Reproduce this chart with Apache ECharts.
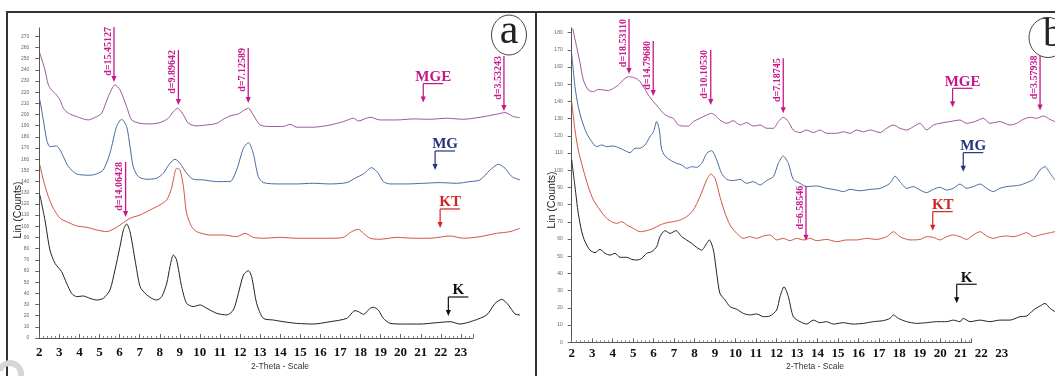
<!DOCTYPE html>
<html><head><meta charset="utf-8">
<script src="https://cdn.jsdelivr.net/npm/echarts@6/dist/echarts.min.js"></script>
<style>html,body{margin:0;padding:0;background:#fff}#c{width:1055px;height:376px}</style>
</head><body><div id="c"></div>
<script>
// ---------- DATA ----------
const xTickLabels = [2,3,4,5,6,7,8,9,10,11,12,13,14,15,16,17,18,19,20,21,22,23];
const seriesNames = ['MGE','MG','KT','K'];

// Panel (a): [2-theta scale, Lin counts]
const a_MGE = [[2.03,254.9],[2.28,240],[2.45,226.6],[2.61,222.1],[2.86,217.6],[3.03,213.1],[3.2,205.7],[3.45,201.2],[3.86,198.2],[4.44,195.2],[4.86,198.2],[5.11,201.2],[5.44,216.1],[5.77,226.6],[6.02,222.1],[6.35,207.2],[6.6,195.2],[7.02,192.2],[7.52,191.6],[8.01,192.8],[8.43,196.7],[8.68,202.7],[8.89,205.7],[9.18,199.7],[9.43,192.2],[9.84,189.9],[10.34,190.7],[10.84,192.2],[11.17,195.8],[11.5,198.8],[11.92,200.6],[12.17,203.6],[12.42,205.7],[12.66,199.7],[13,190.7],[13.5,189.3],[14.16,189.3],[14.49,191.3],[14.82,188.7],[15.65,188.7],[16.49,190.7],[17.15,193.7],[17.65,196.7],[17.9,194.3],[18.48,197.6],[18.98,195.2],[19.81,195.2],[20.64,196.1],[21.47,195.8],[22.3,196.7],[23.13,195.8],[23.96,197.6],[24.79,200.3],[25.21,201.8],[25.62,198.2],[25.95,197.3]];
const a_MG = [[2.03,213.1],[2.2,195.2],[2.37,177.3],[2.53,171.3],[2.86,171.9],[3.03,168.4],[3.2,162.4],[3.45,153.4],[3.86,146.9],[4.52,145.7],[4.86,146.9],[5.19,150.4],[5.52,165.4],[5.85,189.3],[6.1,195.8],[6.35,189.3],[6.52,171.3],[6.68,153.4],[6.93,144.5],[7.35,142.1],[7.85,143],[8.18,147.5],[8.51,156.4],[8.76,160],[9.01,156.4],[9.34,147.5],[9.67,142.1],[10.17,141.5],[10.84,140],[11.5,140],[11.83,150.4],[12.17,169.9],[12.42,174.9],[12.66,165.4],[12.91,144.5],[13.16,139.1],[13.99,137.9],[14.82,137.9],[15.65,138.5],[16.49,137.9],[17.32,139.1],[17.73,143],[18.15,146.9],[18.56,152.5],[18.89,147.5],[19.14,140],[19.48,137.9],[20.31,137.9],[21.14,138.5],[21.97,139.1],[22.8,138.5],[23.46,140],[23.96,141.5],[24.46,150.4],[24.87,155.5],[25.21,151.9],[25.54,144.5],[25.95,141.5]];
const a_KT = [[2.03,154.9],[2.2,141.5],[2.45,126.6],[2.7,116.1],[3.03,107.2],[3.36,104.2],[3.86,100.3],[4.36,99.1],[4.86,96.7],[5.36,95.2],[5.77,98.2],[6.1,102.1],[6.52,107.2],[7.02,110.1],[7.52,114.6],[8.01,119.1],[8.35,123.6],[8.59,134],[8.71,144.5],[8.84,151.9],[9.01,150.4],[9.18,135.5],[9.34,111.6],[9.59,99.7],[9.84,95.2],[10.5,92.2],[11.17,92.2],[11.83,90.7],[12.25,93.7],[12.66,90.1],[13.16,89.3],[13.99,90.1],[14.82,89.3],[15.65,89.3],[16.49,89.3],[17.15,90.1],[17.56,95.2],[17.9,97.3],[18.15,93.7],[18.48,89.3],[18.98,88.4],[19.81,90.1],[20.64,89.3],[21.47,89.3],[22.47,91.3],[23.13,89.3],[23.96,90.7],[24.79,93.7],[25.45,95.2],[25.95,98.2]];
const a_K = [[2.03,128.1],[2.28,105.7],[2.53,78.8],[2.78,66.9],[3.11,59.4],[3.36,49],[3.61,40],[3.86,37],[4.19,37.6],[4.52,35.5],[4.86,34],[5.19,35.5],[5.52,43],[5.77,60.9],[6.02,81.8],[6.19,96.7],[6.35,102.1],[6.52,95.2],[6.77,69.9],[7.02,46],[7.27,40],[7.6,35.5],[7.85,34],[8.1,37],[8.35,49],[8.51,63.9],[8.68,74.3],[8.84,69.9],[9.09,46],[9.34,31],[9.67,28.1],[10.01,29.6],[10.34,26.6],[10.84,22.1],[11.34,20.6],[11.67,25.1],[11.92,40],[12.17,56.4],[12.42,60.3],[12.58,54.9],[12.83,31],[13.16,17.6],[13.66,16.1],[14.16,14.6],[14.82,13.1],[15.65,12.5],[16.49,14.6],[17.32,17.6],[17.73,24.5],[17.9,23.6],[18.15,21.2],[18.48,26.6],[18.64,27.5],[18.89,25.1],[19.14,17.6],[19.48,13.1],[20.14,12.5],[20.97,12.5],[21.8,13.7],[22.47,14.6],[22.96,12.5],[23.63,15.5],[24.29,20.6],[24.71,31],[25.04,34.6],[25.37,29.6],[25.7,21.5],[25.95,20.6]];

// Panel (b)
const b_MGE = [[2.05,182.3],[2.24,171.9],[2.41,162.2],[2.57,152.5],[2.81,146.7],[3.06,145.7],[3.3,147],[3.54,146.7],[3.79,146.3],[4.03,147.6],[4.28,149.6],[4.52,152.5],[4.77,154.4],[5.01,154],[5.26,152.5],[5.5,148.6],[5.74,143.8],[5.99,139.9],[6.23,136.6],[6.48,133.1],[6.72,131.2],[6.96,130.2],[7.21,126.3],[7.45,125.7],[7.7,125.7],[7.94,128.3],[8.26,130.2],[8.59,132.1],[8.83,133.1],[8.99,132.1],[9.24,129.2],[9.57,127.3],[9.89,128.8],[10.22,126.3],[10.54,127.7],[10.87,125.7],[11.2,126.3],[11.52,124.4],[11.85,124.4],[12.09,128.3],[12.33,130.8],[12.58,128.3],[12.82,123.4],[13.15,121.9],[13.47,123.4],[13.8,121.9],[14.12,123.4],[14.45,121.5],[14.94,121.5],[15.27,122.4],[15.59,121.5],[15.91,123.4],[16.24,122.4],[16.57,123.4],[17.06,121.9],[17.38,124.4],[17.71,126.3],[18.03,124.4],[18.36,123.4],[18.68,125.3],[19.01,127.3],[19.33,123.4],[19.66,126.3],[19.98,127.3],[20.47,128.3],[20.96,129.2],[21.28,127.3],[21.69,128.3],[22.1,130.2],[22.42,127.3],[22.91,128.3],[23.4,126.3],[23.73,127.3],[24.05,129.6],[24.38,130.8],[24.7,130.2],[25.03,131.6],[25.35,129.6],[25.6,128.3]];
const b_MG = [[2,168],[2.16,148.6],[2.32,137],[2.49,129.2],[2.73,121.5],[2.98,116.6],[3.22,113.7],[3.46,114.7],[3.71,113.7],[4.03,114.1],[4.36,112.8],[4.6,111.4],[4.85,110.2],[5.09,112.8],[5.33,112.8],[5.58,114.7],[5.82,119.5],[5.99,122.4],[6.15,128.3],[6.28,123.4],[6.39,112.2],[6.56,108.3],[6.8,106],[7.13,104],[7.37,103.1],[7.62,101.1],[7.86,102.1],[8.1,101.7],[8.35,104],[8.59,109.8],[8.83,111.4],[9.08,106],[9.32,98.2],[9.57,94.7],[9.89,94],[10.22,94.7],[10.54,92.4],[10.87,93.4],[11.2,91.4],[11.52,94],[11.85,96.3],[12.09,104],[12.33,108.3],[12.58,104],[12.82,94.7],[13.15,92.4],[13.47,90.5],[13.96,90.9],[14.45,89.5],[14.94,88.5],[15.27,87.6],[15.59,88.9],[16.08,88.1],[16.57,88.9],[17.06,89.5],[17.54,92.4],[17.79,96.6],[18.03,93.4],[18.36,89.5],[18.68,90.5],[19.01,88.5],[19.33,87],[19.66,88.9],[19.98,90.1],[20.31,88.5],[20.63,89.5],[20.96,92],[21.29,89.5],[21.61,90.5],[21.94,92],[22.26,89.5],[22.59,87.6],[22.91,89.5],[23.24,90.5],[23.57,90.9],[23.89,91.4],[24.22,92.8],[24.55,94.7],[24.87,100.2],[25.11,102.1],[25.36,98.2],[25.6,94.3]];
const b_KT = [[2,139.9],[2.16,123.4],[2.32,111.8],[2.57,100.2],[2.81,90.5],[3.06,82.7],[3.38,76.9],[3.71,72],[3.95,70.1],[4.2,69.1],[4.44,70.1],[4.69,68.2],[5.01,66.2],[5.34,64.3],[5.66,64.9],[5.99,66.2],[6.31,68.2],[6.64,69.5],[6.96,70.1],[7.29,71.1],[7.61,73],[7.94,76.9],[8.26,84.6],[8.59,94.3],[8.79,97.8],[9,95.3],[9.24,84.6],[9.49,75],[9.73,68.2],[10.06,63.3],[10.38,60.4],[10.71,61.4],[11.03,60.4],[11.36,61.8],[11.68,62.4],[12.01,59.5],[12.33,60.4],[12.66,59.1],[12.98,60.4],[13.31,59.5],[13.63,60.4],[13.96,59.1],[14.45,59.8],[14.94,58.5],[15.42,59.5],[15.91,59.5],[16.4,60.4],[16.88,59.8],[17.38,61.4],[17.71,64.3],[18.03,61.4],[18.52,59.5],[19.01,59.8],[19.33,61.4],[19.66,61],[19.98,59.5],[20.31,61.4],[20.63,62.4],[20.96,61.4],[21.29,59.8],[21.61,62.4],[21.94,64.3],[22.26,61.8],[22.59,60.4],[22.91,61.4],[23.24,61.8],[23.57,61.4],[23.89,62.4],[24.22,63.7],[24.55,61.4],[24.87,62.4],[25.2,63.3],[25.6,64.3]];
const b_K = [[2,106],[2.16,90.5],[2.32,75],[2.49,64.3],[2.65,58.5],[2.89,53.6],[3.14,52.1],[3.38,54],[3.63,51.7],[3.87,50.7],[4.12,51.7],[4.36,49.4],[4.69,49.4],[4.93,48.2],[5.18,47.8],[5.42,48.8],[5.66,51.7],[5.91,52.7],[6.15,55.6],[6.31,61.4],[6.56,64.9],[6.8,63.3],[7.09,64.9],[7.37,61.4],[7.61,59.5],[7.86,57.5],[8.1,55.2],[8.35,53.6],[8.59,57.5],[8.72,59.5],[8.92,53.6],[9.08,40.1],[9.24,28.4],[9.49,24.6],[9.73,20.7],[10.06,19.2],[10.38,16.8],[10.71,15.9],[11.03,16.5],[11.36,14.9],[11.68,15.3],[12.01,18.8],[12.17,26.5],[12.37,32.3],[12.58,26.5],[12.82,14.9],[13.15,12],[13.47,10.6],[13.8,12.9],[14.12,11.4],[14.45,12],[14.77,10.6],[15.26,11.4],[15.75,10.6],[16.24,11],[16.73,12],[17.22,12.6],[17.54,13.9],[17.71,15.9],[17.95,13.9],[18.36,12],[18.84,11],[19.33,11.4],[19.82,12],[20.31,12],[20.63,12.9],[20.96,12],[21.12,13.9],[21.45,12],[21.94,12.9],[22.42,12],[22.91,12.9],[23.4,12.9],[23.89,14.9],[24.22,15.3],[24.55,18.8],[24.87,21.1],[25.11,22.6],[25.36,19.7],[25.6,17.8]];

// d-spacing annotations: peak 2-theta scale value and counts at arrow tip
const a_dLabels = [['d=15.45127',5.72,229.2],['d=9.89642',8.93,208.6],['d=7.12589',12.41,210.4],['d=3.53243',25.15,203.2],['d=14.06428',6.30,108.3]];
const b_dLabels = [['d=18.53110',4.80,156.0],['d=14.79680',5.98,143.2],['d=10.10530',8.79,138.0],['d=7.18745',12.33,133.1],['d=3.57938',24.87,134.7],['d=6.58546',13.44,59.1]];
// sample name markers: name, 2-theta, counts at arrow tip
const a_names = [['MGE',21.13,210.7],['MG',21.72,150.4],['KT',21.97,98.5],['K',22.38,19.7]];
const b_names = [['MGE',20.60,136.6],['MG',21.12,99.2],['KT',19.63,64.9],['K',20.80,22.7]];

// ---------- STYLE ----------
const lineColors = {MGE:'#a0559a', MG:'#4b6aa3', KT:'#d2553f', K:'#222222'};
const nameColors = {MGE:'#c2168a', MG:'#24317c', KT:'#d42323', K:'#111111'};
const MAG = '#c8168c';

const chart = echarts.init(document.getElementById('c'));

function dataX(gi, max, margin){
  return {gridIndex:gi, type:'value', min:2, max:max, interval:1,
    axisLine:{show:false}, axisTick:{show:false}, splitLine:{show:false},
    axisLabel:{margin:margin, fontFamily:'Liberation Serif', fontWeight:'bold', fontSize:13, color:'#111',
      showMaxLabel:false,
      formatter:v => xTickLabels.indexOf(v) >= 0 ? String(v) : ''}};
}
function rulerX(gi, max){
  return {gridIndex:gi, type:'value', min:2, max:max, interval:1,
    axisLine:{show:true, lineStyle:{color:'#555', width:1}},
    axisTick:{show:true, inside:true, length:4, lineStyle:{color:'#666'}},
    minorTick:{show:true, splitNumber:5, length:2, lineStyle:{color:'#888'}},
    axisLabel:{show:false}, splitLine:{show:false}};
}
function dataY(gi, max, margin){
  return {gridIndex:gi, type:'value', min:0, max:max, interval:10,
    axisLine:{show:true, lineStyle:{color:'#555', width:1}},
    axisTick:{show:true, length:4, lineStyle:{color:'#666'}},
    splitLine:{show:false},
    axisLabel:{margin:margin, fontSize:5, color:'#666', fontFamily:'Liberation Sans', showMaxLabel:false}};
}
function hiddenY(gi){ return {gridIndex:gi, type:'value', min:0, max:1, show:false}; }

function mkSeries(data, name, xi, yi){
  return {type:'line', name:name, data:data, xAxisIndex:xi, yAxisIndex:yi, showSymbol:false, symbol:'none',
    smooth:0.25, clip:false, lineStyle:{color:lineColors[name], width:1}, silent:true, animation:false};
}

chart.setOption({
  animation:false,
  backgroundColor:'#ffffff',
  grid:[
    {left:39.3, right:535, top:28, bottom:38},
    {left:39.3, width:433.7, top:28, bottom:38},
    {left:571.7, right:0, top:28, bottom:33.7},
    {left:571.7, width:399.8, top:28, bottom:33.7}
  ],
  xAxis:[dataX(0,25.95,8), rulerX(1,23.6), dataX(2,25.6,5), rulerX(3,21.5)],
  yAxis:[dataY(0,277.5,10), hiddenY(1), dataY(2,182.7,9), hiddenY(3)],
  series:[
    mkSeries(a_MGE,'MGE',0,0), mkSeries(a_MG,'MG',0,0), mkSeries(a_KT,'KT',0,0), mkSeries(a_K,'K',0,0),
    mkSeries(b_MGE,'MGE',2,2), mkSeries(b_MG,'MG',2,2), mkSeries(b_KT,'KT',2,2), mkSeries(b_K,'K',2,2)
  ]
});

// ---------- ANNOTATIONS ----------
const els = [];
function arrowHead(x, y, color){
  els.push({type:'polygon', silent:true, shape:{points:[[x-2.6,y-6],[x+2.6,y-6],[x,y]]}, style:{fill:color}});
}
function addD(axes, list){
  list.forEach(([txt, xv, yv]) => {
    const p = chart.convertToPixel(axes, [xv, yv]);
    const L = 55;
    els.push({type:'line', silent:true, shape:{x1:p[0], y1:p[1]-L, x2:p[0], y2:p[1]-5}, style:{stroke:MAG, lineWidth:1.3}});
    arrowHead(p[0], p[1], MAG);
    els.push({type:'text', silent:true, x:p[0]-1, y:p[1]-L, rotation:Math.PI/2,
      style:{text:txt, font:'bold 10px "Liberation Serif"', fill:MAG, align:'right', verticalAlign:'bottom', textAlign:'right', textVerticalAlign:'bottom'}});
  });
}
function addNames(axes, list){
  list.forEach(([nm, xv, yv]) => {
    const p = chart.convertToPixel(axes, [xv, yv]);
    const c = nameColors[nm];
    const cx = p[0], cy = p[1]-19;
    els.push({type:'line', silent:true, shape:{x1:cx, y1:cy, x2:cx, y2:p[1]-5}, style:{stroke:c, lineWidth:1.2}});
    els.push({type:'line', silent:true, shape:{x1:cx, y1:cy, x2:cx+20, y2:cy}, style:{stroke:c, lineWidth:1.2}});
    arrowHead(cx, p[1], c);
    els.push({type:'text', silent:true, x:cx+10, y:cy+1,
      style:{text:nm, font:'bold 15px "Liberation Serif"', fill:c, align:'center', verticalAlign:'bottom', textAlign:'center', textVerticalAlign:'bottom'}});
  });
}
addD({xAxisIndex:0, yAxisIndex:0}, a_dLabels);
addD({xAxisIndex:2, yAxisIndex:2}, b_dLabels);
addNames({xAxisIndex:0, yAxisIndex:0}, a_names);
addNames({xAxisIndex:2, yAxisIndex:2}, b_names);

// frames
const frameStyle = {stroke:'#333', lineWidth:2};
els.push({type:'line', silent:true, shape:{x1:6, y1:12, x2:1055, y2:12}, style:frameStyle});
els.push({type:'line', silent:true, shape:{x1:7, y1:12, x2:7, y2:376}, style:frameStyle});
els.push({type:'line', silent:true, shape:{x1:536, y1:12, x2:536, y2:376}, style:frameStyle});
// panel letters
els.push({type:'ellipse', silent:true, shape:{cx:509, cy:35, rx:17.5, ry:20}, style:{fill:'none', stroke:'#444', lineWidth:1}});
els.push({type:'text', silent:true, x:509, y:32, style:{text:'a', font:'42px "Liberation Serif"', fill:'#222', align:'center', verticalAlign:'middle', textAlign:'center', textVerticalAlign:'middle'}});
els.push({type:'ellipse', silent:true, shape:{cx:1048, cy:37.5, rx:19, ry:20}, style:{fill:'none', stroke:'#444', lineWidth:1}});
els.push({type:'text', silent:true, x:1053, y:35, style:{text:'b', font:'40px "Liberation Serif"', fill:'#222', align:'center', verticalAlign:'middle', textAlign:'center', textVerticalAlign:'middle'}});
// axis titles
[[18,210],[552,200]].forEach(([x,y]) => {
  els.push({type:'text', silent:true, x:x, y:y, rotation:Math.PI/2,
    style:{text:'Lin (Counts)', font:'10.5px "Liberation Sans"', fill:'#222', align:'center', verticalAlign:'middle', textAlign:'center', textVerticalAlign:'middle'}});
});
[[280,367],[815,367]].forEach(([x,y]) => {
  els.push({type:'text', silent:true, x:x, y:y,
    style:{text:'2-Theta - Scale', font:'8.5px "Liberation Sans"', fill:'#333', align:'center', verticalAlign:'middle', textAlign:'center', textVerticalAlign:'middle'}});
});
// faint watermark blob at bottom-left
els.push({type:'arc', silent:true, shape:{cx:10, cy:374, r:11, startAngle:-Math.PI*0.9, endAngle:Math.PI*0.3}, style:{stroke:'#d6d6d6', lineWidth:6, fill:'none'}});

chart.setOption({graphic:{elements:els}});
</script>
</body></html>
